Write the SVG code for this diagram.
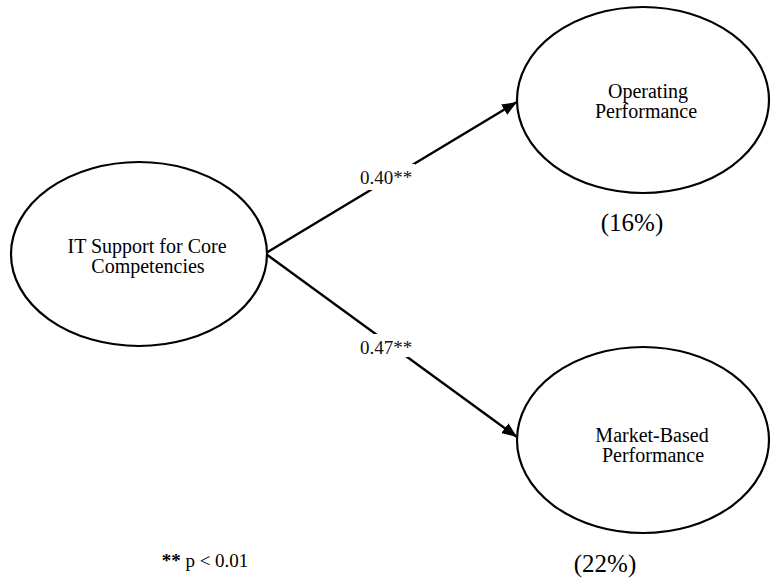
<svg xmlns="http://www.w3.org/2000/svg" width="771" height="581" viewBox="0 0 771 581">
<style>
.node{fill:#fff;stroke:#000;stroke-width:2.2}
.t{font-family:"Liberation Serif","Times New Roman",serif;font-size:20px;fill:#000;text-anchor:middle}
.lbl{font-family:"Liberation Serif","Times New Roman",serif;font-size:19px;fill:#111;text-anchor:middle}
.pct{font-family:"Liberation Serif","Times New Roman",serif;font-size:25px;fill:#000;text-anchor:middle}
.edge{stroke:#000;stroke-width:2.4;fill:none}
</style>
<defs>
<marker id="ah" markerUnits="userSpaceOnUse" markerWidth="16" markerHeight="12" refX="15" refY="6" orient="auto">
<path d="M0,0 L15,6 L0,12 z" fill="#000"/>
</marker>
</defs>
<rect width="771" height="581" fill="#fff"/>
<g id="edges">
<line class="edge" x1="266" y1="253" x2="517" y2="102" marker-end="url(#ah)"/>
<line class="edge" x1="266" y1="254" x2="517" y2="437" marker-end="url(#ah)"/>
<rect x="357" y="164" width="58" height="26" fill="#fff"/>
<text class="lbl" x="386" y="184">0.40**</text>
<rect x="357" y="334" width="58" height="23" fill="#fff"/>
<text class="lbl" x="386" y="354">0.47**</text>
</g>
<g id="it-support">
<ellipse class="node" cx="139" cy="254" rx="128" ry="92"/>
<text class="t" x="147" y="253">IT Support for Core</text>
<text class="t" x="148" y="273">Competencies</text>
</g>
<g id="operating">
<ellipse class="node" cx="643" cy="100" rx="126" ry="93"/>
<text class="t" x="648" y="98">Operating</text>
<text class="t" x="646" y="118">Performance</text>
<text class="pct" x="632" y="231">(16%)</text>
</g>
<g id="market">
<ellipse class="node" cx="643" cy="440" rx="126" ry="93"/>
<text class="t" x="652" y="442">Market-Based</text>
<text class="t" x="653" y="462">Performance</text>
<text class="pct" x="605" y="572">(22%)</text>
</g>
<g id="note">
<text class="t" x="205" y="567" style="font-size:19px"><tspan font-weight="bold">**</tspan> p &lt; 0.01</text>
</g>
</svg>
